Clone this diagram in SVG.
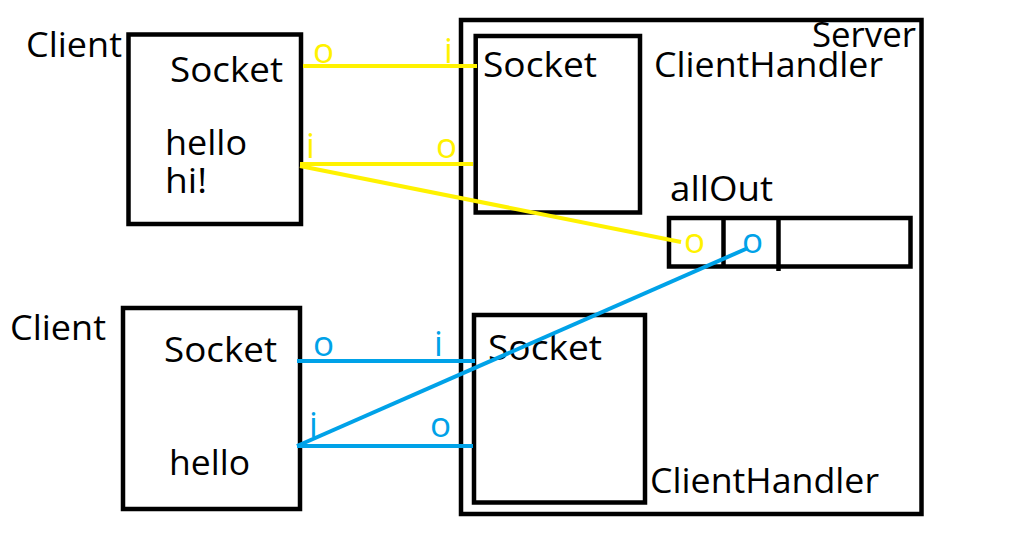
<svg xmlns="http://www.w3.org/2000/svg" width="1017" height="539" viewBox="0 0 1017 539">
<style>
.box{fill:none;stroke:#000;stroke-width:4.5}
.t{font-family:"Open Sans","Liberation Sans",sans-serif;font-size:35px;fill:#000}
.y{stroke:#FFF200;stroke-width:4;fill:none}
.b{stroke:#00A2E8;stroke-width:4;fill:none}
.ly{font-family:"Open Sans","Liberation Sans",sans-serif;font-size:35px;fill:#FFF200}
.lb{font-family:"Open Sans","Liberation Sans",sans-serif;font-size:35px;fill:#00A2E8}
</style>
<rect width="1017" height="539" fill="#fff"/>
<g id="server">
<rect class="box" x="461" y="20" width="460.5" height="494"/>
<text class="t" x="812" y="47" textLength="104" lengthAdjust="spacingAndGlyphs">Server</text>
</g>
<g id="client1">
<text class="t" x="26" y="57" textLength="96" lengthAdjust="spacingAndGlyphs">Client</text>
<rect class="box" x="128.5" y="34.5" width="172.5" height="189.5"/>
<text class="t" x="170" y="82" textLength="113" lengthAdjust="spacingAndGlyphs">Socket</text>
<text class="t" x="165" y="155" textLength="82" lengthAdjust="spacingAndGlyphs">hello</text>
<text class="t" x="165" y="193" textLength="42" lengthAdjust="spacingAndGlyphs">hi!</text>
</g>
<g id="client2">
<text class="t" x="10" y="340" textLength="96" lengthAdjust="spacingAndGlyphs">Client</text>
<rect class="box" x="123" y="308" width="177" height="201"/>
<text class="t" x="164" y="362" textLength="113" lengthAdjust="spacingAndGlyphs">Socket</text>
<text class="t" x="169" y="475" textLength="81" lengthAdjust="spacingAndGlyphs">hello</text>
</g>
<g id="handler1">
<rect class="box" x="475.7" y="36" width="164.3" height="176.5"/>
<text class="t" x="483" y="77" textLength="114" lengthAdjust="spacingAndGlyphs">Socket</text>
<text class="t" x="654" y="77" textLength="229" lengthAdjust="spacingAndGlyphs">ClientHandler</text>
</g>
<g id="handler2">
<rect class="box" x="474" y="315" width="171" height="187.5"/>
<text class="t" x="488" y="360" textLength="114" lengthAdjust="spacingAndGlyphs">Socket</text>
<text class="t" x="650" y="493" textLength="229" lengthAdjust="spacingAndGlyphs">ClientHandler</text>
</g>
<g id="allOut">
<text class="t" x="670" y="201" textLength="103" lengthAdjust="spacingAndGlyphs">allOut</text>
<rect class="box" x="669" y="218" width="241.5" height="48.5"/>
<line x1="723.5" y1="218" x2="723.5" y2="266.5" stroke="#000" stroke-width="4.5"/>
<line x1="778.5" y1="218" x2="778.5" y2="271" stroke="#000" stroke-width="4.5"/>
</g>
<g id="connectors">
<line class="y" x1="303" y1="66" x2="477" y2="66"/>
<line class="y" x1="300" y1="164" x2="473" y2="164"/>
<line class="y" x1="300" y1="166" x2="681" y2="242"/>
<line class="b" x1="297" y1="361" x2="475" y2="361"/>
<line class="b" x1="297" y1="446" x2="473" y2="446"/>
<line class="b" x1="297" y1="446" x2="748" y2="248"/>
<text class="ly" x="313" y="63">o</text>
<text class="ly" x="444" y="63">i</text>
<text class="ly" x="306" y="158">i</text>
<text class="ly" x="436" y="158">o</text>
<text class="ly" x="684" y="253">o</text>
<text class="lb" x="313" y="356">o</text>
<text class="lb" x="434" y="356">i</text>
<text class="lb" x="309" y="437">i</text>
<text class="lb" x="430" y="437">o</text>
<text class="lb" x="742" y="253">o</text>
</g>
</svg>
